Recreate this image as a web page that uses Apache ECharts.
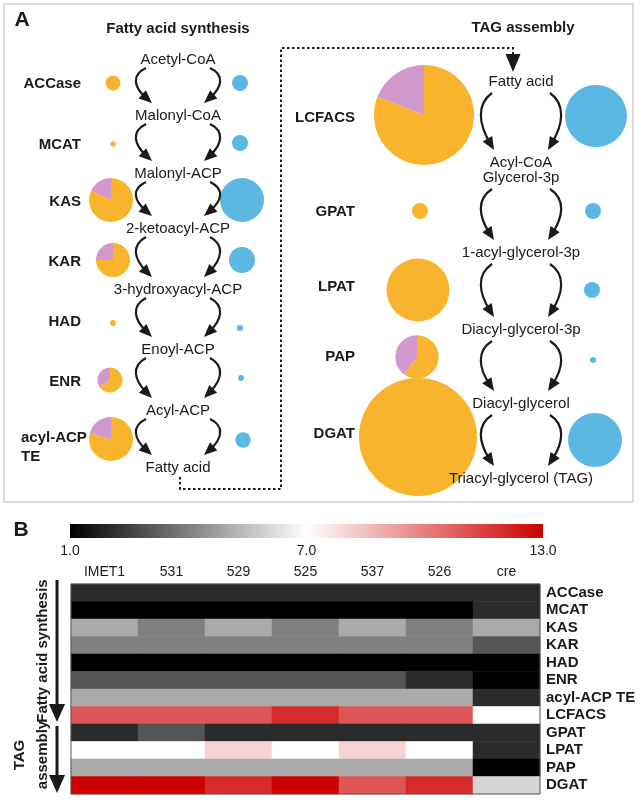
<!DOCTYPE html>
<html>
<head>
<meta charset="utf-8">
<script src="https://cdn.jsdelivr.net/npm/echarts@6.0.0/dist/echarts.min.js"></script>
<style>
  html, body { margin: 0; padding: 0; background: #fff; }
  #chart { width: 641px; height: 800px; }
</style>
</head>
<body>
<div id="chart"></div>
<script>
  // ---- data: fatty acid synthesis ----
  var fasEnzymes = ['ACCase', 'MCAT', 'KAS', 'KAR', 'HAD', 'ENR', 'acyl-ACP TE'];
  var fasOrange = [7.5, 2.7, 22, 17, 3, 12.5, 22];     // circle radius, left (orange) set
  var fasPink = [0, 0, 0.18, 0.25, 0, 0.34, 0.21];    // share of the pink slice
  var fasBlue = [8, 8, 22, 13, 3, 3, 7.7];             // circle radius, right (blue) set
  var fasMetabolites = ['Acetyl-CoA', 'Malonyl-CoA', 'Malonyl-ACP', '2-ketoacyl-ACP',
    '3-hydroxyacyl-ACP', 'Enoyl-ACP', 'Acyl-ACP', 'Fatty acid'];

  // ---- data: TAG assembly ----
  var tagEnzymes = ['LCFACS', 'GPAT', 'LPAT', 'PAP', 'DGAT'];
  var tagOrange = [50, 8, 31.5, 21.7, 59];
  var tagPink = [0.19, 0, 0, 0.4, 0];
  var tagBlue = [31, 8, 8, 3, 27];
  var tagMetabolites = ['Fatty acid', 'Acyl-CoA\nGlycerol-3p', '1-acyl-glycerol-3p',
    'Diacyl-glycerol-3p', 'Diacyl-glycerol', 'Triacyl-glycerol (TAG)'];

  // ---- data: heatmap ----
  var heatCols = ['IMET1', '531', '529', '525', '537', '526', 'cre'];
  var heatRows = ['ACCase', 'MCAT', 'KAS', 'KAR', 'HAD', 'ENR', 'acyl-ACP TE',
    'LCFACS', 'GPAT', 'LPAT', 'PAP', 'DGAT'];
  var heatValues = [
    [2, 2, 2, 2, 2, 2, 2],
    [1, 1, 1, 1, 1, 1, 2],
    [5, 4, 5, 4, 5, 4, 5],
    [4, 4, 4, 4, 4, 4, 3],
    [1, 1, 1, 1, 1, 1, 1],
    [3, 3, 3, 3, 3, 2, 1],
    [5, 5, 5, 5, 5, 5, 2],
    [11, 11, 11, 12, 11, 11, 7],
    [2, 3, 2, 2, 2, 2, 2],
    [7, 7, 8, 7, 8, 7, 2],
    [5, 5, 5, 5, 5, 5, 1],
    [13, 13, 12, 13, 11, 12, 6]
  ];
  var scaleTicks = [1, 7, 13];

  // ---- layout ----
  var ORANGE = '#F7B42C', PINK = '#D199CB', BLUE = '#5DB7E3', INK = '#1a1a1a';
  var FONT = '"Liberation Sans", Arial, sans-serif';

  var fasCx = 178;
  var fasMetY = [60, 116, 174, 229, 290, 350, 411, 468];
  var fasRowY = [83, 144, 200, 260, 323, 380, 439];
  var fasLabelY = [84, 145, 202, 262, 322, 382, 438];
  var fasOrangeX = [113, 113, 111, 113, 113, 110, 111];
  var fasBlueX = [240, 240, 242, 242, 240, 241, 243];
  var fasBlueY = [83, 143, 200, 260, 328, 378, 440];

  var tagCx = 521;
  var tagMetY = [82, 170, 253, 330, 404, 479];
  var tagArrowY = [[93, 150], [189, 240], [264, 317], [341, 391], [415, 466]];
  var tagRowY = [115, 211, 290, 357, 437];
  var tagLabelY = [118, 212, 287, 357, 434];
  var tagOrangeX = [424, 420, 418, 417, 418];
  var tagBlueX = [596, 593, 592, 593, 595];
  var tagBlueY = [116, 211, 290, 360, 440];

  var series = [];
  var graphics = [];

  function pieSeries(cx, cy, r, pinkShare, blue) {
    var data = blue
      ? [{value: 1, itemStyle: {color: BLUE}}]
      : [{value: 1 - pinkShare, itemStyle: {color: ORANGE}},
         {value: pinkShare, itemStyle: {color: PINK}}];
    return {
      type: 'pie', silent: true, center: [cx, cy], radius: r, z: 2,
      startAngle: 90, clockwise: true, minAngle: 0,
      label: {show: false}, labelLine: {show: false},
      emphasis: {disabled: true},
      itemStyle: {borderWidth: 0},
      data: data
    };
  }

  function text(str, x, y, opts) {
    opts = opts || {};
    return {
      type: 'text', x: x, y: y, z: 100, rotation: opts.rotation || 0, silent: true,
      style: {
        text: str, fill: opts.color || INK,
        font: (opts.bold ? 'bold ' : '') + (opts.size || 15) + 'px ' + FONT,
        align: opts.align || 'center', verticalAlign: 'middle',
        lineHeight: opts.lineHeight || 16
      }
    };
  }

  function head(tx, ty, dx, dy, len, half, color) {
    var l = Math.sqrt(dx * dx + dy * dy);
    dx /= l; dy /= l;
    var bx = tx - dx * len, by = ty - dy * len;
    return {
      type: 'polygon', silent: true, z: 100,
      shape: {points: [[tx, ty], [bx - dy * half, by + dx * half], [bx + dy * half, by - dx * half]]},
      style: {fill: color || INK}
    };
  }

  // curved arrow, side = -1 bulges left, +1 bulges right
  function curvedArrow(cx, yT, yB, side, o) {
    var h = yB - yT;
    var x0 = cx + side * o.start, x3 = cx + side * o.tip;
    var c1x = cx + side * (o.bulge + 5), c2x = cx + side * (o.bulge + 2);
    var c1y = yT + h * 0.2, c2y = yB - h * 0.45;
    var dx = x3 - c2x, dy = yB - c2y;
    var l = Math.sqrt(dx * dx + dy * dy);
    var ex = x3 - dx / l * 8, ey = yB - dy / l * 8;
    graphics.push({
      type: 'bezierCurve', silent: true, z: 100,
      shape: {x1: x0, y1: yT, cpx1: c1x, cpy1: c1y, cpx2: c2x, cpy2: c2y, x2: ex, y2: ey},
      style: {stroke: INK, lineWidth: 2.2, fill: 'none'}
    });
    graphics.push(head(x3, yB, dx, dy, 13, 5.5));
  }

  // panel A frame and titles
  graphics.push({type: 'rect', silent: true, z: 0, shape: {x: 4, y: 4, width: 629, height: 498},
    style: {fill: 'none', stroke: '#cfcfcf', lineWidth: 1.5}});
  graphics.push(text('A', 22, 20, {bold: true, size: 21, align: 'center'}));
  graphics.push(text('Fatty acid synthesis', 178, 29, {bold: true}));
  graphics.push(text('TAG assembly', 523, 28, {bold: true}));

  // fatty acid synthesis column
  fasMetabolites.forEach(function (m, i) {
    graphics.push(text(m, fasCx, fasMetY[i]));
    if (i < fasMetabolites.length - 1) {
      var o = {start: 32, tip: 26, bulge: 42};
      curvedArrow(fasCx, fasMetY[i] + 8, fasMetY[i + 1] - 13, -1, o);
      curvedArrow(fasCx, fasMetY[i] + 8, fasMetY[i + 1] - 13, 1, o);
    }
  });
  fasEnzymes.forEach(function (e, i) {
    if (e === 'acyl-ACP TE') {
      graphics.push(text('acyl-ACP\nTE', 21, fasLabelY[i] + 9, {bold: true, align: 'left', lineHeight: 19}));
    } else {
      graphics.push(text(e, 81, fasLabelY[i], {bold: true, align: 'right'}));
    }
    series.push(pieSeries(fasOrangeX[i], fasRowY[i], fasOrange[i], fasPink[i], false));
    series.push(pieSeries(fasBlueX[i], fasBlueY[i], fasBlue[i], 0, true));
  });

  // TAG assembly column
  tagMetabolites.forEach(function (m, i) {
    graphics.push(text(m, tagCx, tagMetY[i], {lineHeight: 15}));
  });
  tagArrowY.forEach(function (yy) {
    var o = {start: 29, tip: 27, bulge: 40};
    curvedArrow(tagCx, yy[0], yy[1], -1, o);
    curvedArrow(tagCx, yy[0], yy[1], 1, o);
  });
  tagEnzymes.forEach(function (e, i) {
    graphics.push(text(e, 355, tagLabelY[i], {bold: true, align: 'right'}));
    series.push(pieSeries(tagOrangeX[i], tagRowY[i], tagOrange[i], tagPink[i], false));
    series.push(pieSeries(tagBlueX[i], tagBlueY[i], tagBlue[i], 0, true));
  });

  // dotted link from fatty acid to TAG assembly
  graphics.push({
    type: 'polyline', silent: true, z: 100,
    shape: {points: [[180, 477], [180, 489], [281, 489], [281, 48], [513, 48], [513, 58]]},
    style: {stroke: INK, lineWidth: 2, lineDash: [2.5, 2.5], fill: 'none'}
  });
  graphics.push(head(513, 72, 0, 1, 18, 7.5));

  // panel B label and side arrows
  graphics.push(text('B', 21, 530, {bold: true, size: 21}));
  graphics.push({type: 'line', silent: true, z: 100, shape: {x1: 57, y1: 580, x2: 57, y2: 708},
    style: {stroke: INK, lineWidth: 3}});
  graphics.push(head(57, 722, 0, 1, 18, 8));
  graphics.push({type: 'line', silent: true, z: 100, shape: {x1: 57, y1: 726, x2: 57, y2: 778},
    style: {stroke: INK, lineWidth: 3}});
  graphics.push(head(57, 793, 0, 1, 18, 8));
  graphics.push(text('Fatty acid synthesis', 43, 651, {bold: true, rotation: Math.PI / 2}));
  graphics.push(text('TAG\nassembly', 31.5, 755, {bold: true, rotation: Math.PI / 2, lineHeight: 23}));

  // colour bar (grid 0)
  series.push({
    type: 'custom', xAxisIndex: 0, yAxisIndex: 0, silent: true,
    data: [[scaleTicks[0], scaleTicks[scaleTicks.length - 1]]],
    renderItem: function (params, api) {
      var a = api.coord([api.value(0), 0]);
      var b = api.coord([api.value(1), 1]);
      return {
        type: 'rect',
        shape: {x: a[0], y: b[1], width: b[0] - a[0], height: a[1] - b[1]},
        style: {
          fill: new echarts.graphic.LinearGradient(0, 0, 1, 0, [
            {offset: 0, color: '#000000'},
            {offset: 0.5, color: '#ffffff'},
            {offset: 1, color: '#cc0000'}
          ])
        }
      };
    }
  });

  // heatmap (grid 1)
  var heatData = [];
  heatValues.forEach(function (row, r) {
    row.forEach(function (v, c) { heatData.push([c, r, v]); });
  });
  series.push({
    type: 'heatmap', xAxisIndex: 1, yAxisIndex: 1, silent: true,
    data: heatData,
    itemStyle: {borderWidth: 0},
    emphasis: {disabled: true}
  });

  var chart = echarts.init(document.getElementById('chart'), null, {renderer: 'canvas'});
  chart.setOption({
    animation: false,
    backgroundColor: '#ffffff',
    textStyle: {fontFamily: FONT},
    grid: [
      {left: 70, right: 98, top: 524, height: 14, show: false},
      {left: 71, width: 469, top: 584, height: 210, show: true, z: 5,
        backgroundColor: 'transparent', borderColor: '#555', borderWidth: 1}
    ],
    xAxis: [
      {type: 'value', gridIndex: 0, min: scaleTicks[0], max: scaleTicks[2], interval: scaleTicks[1] - scaleTicks[0],
        axisLine: {show: false}, axisTick: {show: false}, splitLine: {show: false},
        axisLabel: {show: true, showMinLabel: true, showMaxLabel: true, margin: 6, fontSize: 14, color: INK,
          formatter: function (v) { return v.toFixed(1); }}},
      {type: 'category', gridIndex: 1, position: 'top', data: heatCols,
        axisLine: {show: false}, axisTick: {show: false}, splitLine: {show: false}, splitArea: {show: false},
        axisLabel: {interval: 0, margin: 5, fontSize: 14, color: INK}}
    ],
    yAxis: [
      {type: 'value', gridIndex: 0, min: 0, max: 1, show: false},
      {type: 'category', gridIndex: 1, position: 'right', inverse: true, data: heatRows,
        axisLine: {show: false}, axisTick: {show: false}, splitLine: {show: false}, splitArea: {show: false},
        axisLabel: {interval: 0, margin: 6, fontSize: 15, fontWeight: 'bold', color: INK}}
    ],
    visualMap: {
      type: 'continuous', show: false, seriesIndex: series.length - 1,
      min: scaleTicks[0], max: scaleTicks[2], dimension: 2,
      inRange: {color: ['#000000', '#ffffff', '#cc0000']}
    },
    graphic: graphics,
    series: series
  });
</script>
</body>
</html>
